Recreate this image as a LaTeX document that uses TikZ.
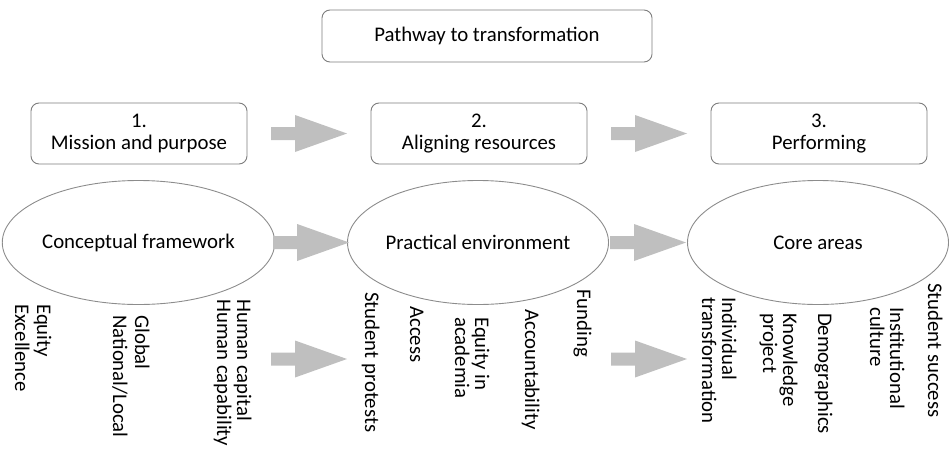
\documentclass[tikz,border=0pt]{standalone}
\usepackage{fontspec}
\setmainfont{Carlito}
\usetikzlibrary{shapes.geometric,calc}
\definecolor{boxgray}{RGB}{125,125,125}
\definecolor{ellgray}{RGB}{140,140,140}
\definecolor{arrowgray}{RGB}{191,191,191}
\begin{document}
\begin{tikzpicture}[x=1pt,y=-1pt,
  every node/.style={font=\fontsize{20.8}{21.5}\selectfont, text=black},
  titlebox/.style={draw=boxgray, line width=0.9pt, rounded corners=8pt,
    minimum width=330pt, minimum height=52pt, inner sep=0pt},
  stagebox/.style={draw=boxgray, line width=0.9pt, rounded corners=8pt,
    minimum width=216pt, minimum height=61pt, align=center, inner sep=0pt},
  areaell/.style={draw=ellgray, line width=0.9pt, ellipse,
    minimum width=261pt, minimum height=124pt, inner sep=0pt},
  lbl/.style={rotate=-90, anchor=base west, inner sep=0pt},
  blkarrow/.pic={\fill[arrowgray] (0,-6.5) -- (24,-6.5) -- (24,-18.5) -- (76,0)
    -- (24,18.5) -- (24,6.5) -- (0,6.5) -- cycle;}]
\useasboundingbox (0,0) rectangle (949,450);

% title
\node[titlebox] (title) at (487,36) {Pathway to transformation};

% stages
\node[stagebox] (s1) at (139,133.5) {1.\\Mission and purpose};
\node[stagebox] (s2) at (479,133.5) {2.\\Aligning resources};
\node[stagebox] (s3) at (819,133.5) {3.\\Performing};

% ellipses
\node[areaell] (e1) at (138.5,242.5) {Conceptual framework};
\node[areaell] (e2) at (478,242.5) {Practical environment};
\node[areaell] (e3) at (818,242.5) {Core areas};

% block arrows
\coordinate (a1) at ($(s1.east)!.5!(s2.west)+(-38,0)$);
\coordinate (a2) at ($(s2.east)!.5!(s3.west)+(-38,0)$);
\coordinate (m1) at ($(e1.east)!.5!(e2.west)+(-38,0)$);
\coordinate (m2) at ($(e2.east)!.5!(e3.west)+(-38,0)$);
\coordinate (b1) at (a1 |- 0,359);
\coordinate (b2) at (a2 |- 0,359);
\pic at (a1) {blkarrow};
\pic at (a2) {blkarrow};
\pic at (m1) {blkarrow};
\pic at (m2) {blkarrow};
\pic at (b1) {blkarrow};
\pic at (b2) {blkarrow};

% labels under conceptual framework
\node[lbl] (l1a) at (37,304) {Equity};
\node[lbl] (l1b) at (15,304) {Excellence};
\node[lbl] (l2a) at (135,315) {Global};
\node[lbl] (l2b) at (113,315) {National/Local};
\node[lbl] (l3a) at (237,299) {Human capital};
\node[lbl] (l3b) at (217,299) {Human capability};

% labels under practical environment
\node[lbl] (p1) at (365,292) {Student protests};
\node[lbl] (p2) at (410,306) {Access};
\node[lbl] (p3a) at (475,317) {Equity in};
\node[lbl] (p3b) at (455,317) {academia};
\node[lbl] (p4) at (525,309) {Accountability};
\node[lbl] (p5) at (577,289) {Funding};

% labels under core areas
\node[lbl] (c1a) at (722,297) {Individual};
\node[lbl] (c1b) at (702,297) {transformation};
\node[lbl] (c2a) at (783,313) {Knowledge};
\node[lbl] (c2b) at (763,313) {project};
\node[lbl] (c3) at (818,313) {Demographics};
\node[lbl] (c4a) at (890,307) {Institutional};
\node[lbl] (c4b) at (870,307) {culture};
\node[lbl] (c5) at (928,283) {Student success};
\end{tikzpicture}
\end{document}
